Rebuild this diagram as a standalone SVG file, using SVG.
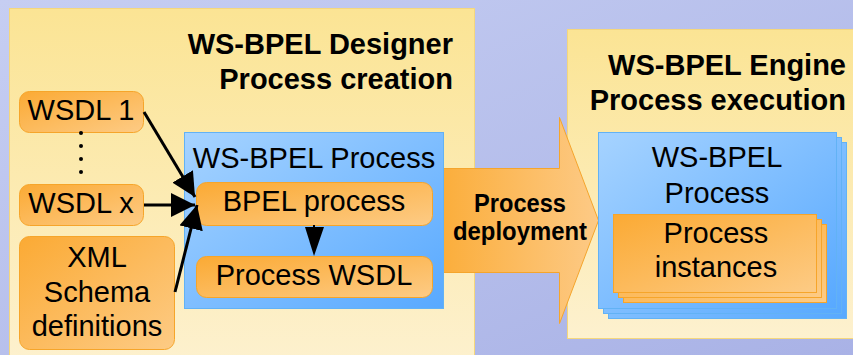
<svg xmlns="http://www.w3.org/2000/svg" width="853" height="355" viewBox="0 0 853 355">
  <defs>
    <linearGradient id="bg" x1="0" y1="0" x2="1" y2="1">
      <stop offset="0" stop-color="#c6ceF2"/>
      <stop offset="1" stop-color="#a9b2e6"/>
    </linearGradient>
    <linearGradient id="panel" x1="0" y1="0" x2="0" y2="1">
      <stop offset="0" stop-color="#fbe494"/>
      <stop offset="1" stop-color="#fdf1cf"/>
    </linearGradient>
    <linearGradient id="orange" x1="0" y1="0" x2="1" y2="1">
      <stop offset="0" stop-color="#fbaa34"/>
      <stop offset="1" stop-color="#fdcb85"/>
    </linearGradient>
    <linearGradient id="blue" x1="0" y1="0" x2="1" y2="1">
      <stop offset="0" stop-color="#a6d3ff"/>
      <stop offset="1" stop-color="#58a9ff"/>
    </linearGradient>
    <linearGradient id="arrowFill" x1="0" y1="0" x2="1" y2="0">
      <stop offset="0" stop-color="#fbae3c"/>
      <stop offset="1" stop-color="#fdca86"/>
    </linearGradient>
    <marker id="head" viewBox="0 0 10 10" refX="10" refY="5" markerWidth="8" markerHeight="8" markerUnits="strokeWidth" orient="auto">
      <path d="M0,0 L10,5 L0,10 z" fill="#000"/>
    </marker>
    <style>
      .panel { fill: url(#panel); stroke: #f5d77c; stroke-width: 1; }
      .onode { fill: url(#orange); stroke: #f6a52a; stroke-width: 1; }
      .bnode { fill: url(#blue); stroke: #62b2f5; stroke-width: 1; }
      .t { font-family: "Liberation Sans", Arial, sans-serif; font-size: 29px; fill: #000; text-anchor: middle; }
      .title { font-family: "Liberation Sans", Arial, sans-serif; font-size: 29px; font-weight: bold; fill: #000; text-anchor: end; }
      .dep { font-family: "Liberation Sans", Arial, sans-serif; font-size: 26px; font-weight: bold; fill: #000; text-anchor: middle; }
      .conn { stroke: #000; stroke-width: 3; fill: none; marker-end: url(#head); }
    </style>
  </defs>

  <rect x="0" y="0" width="853" height="355" fill="url(#bg)"/>

  <!-- Designer panel -->
  <g id="designer">
    <rect class="panel" x="9.5" y="8.5" width="465" height="360"/>
    <text class="title" x="453" y="54">WS-BPEL Designer</text>
    <text class="title" x="453" y="89">Process creation</text>
  </g>

  <!-- Engine panel -->
  <g id="engine">
    <rect class="panel" x="567.5" y="29.5" width="300" height="309"/>
    <text class="title" x="846" y="75">WS-BPEL Engine</text>
    <text class="title" x="846" y="110">Process execution</text>
  </g>

  <!-- Deployment arrow -->
  <g id="deployment">
    <path d="M443.5,168.5 L559.5,168.5 L559.5,117.5 L598.5,220.5 L559.5,323.5 L559.5,272.5 L443.5,272.5 z" fill="url(#arrowFill)" stroke="#f5a52c" stroke-width="1"/>
    <text class="dep" x="520" y="212" textLength="92" lengthAdjust="spacingAndGlyphs">Process</text>
    <text class="dep" x="520" y="240" textLength="134" lengthAdjust="spacingAndGlyphs">deployment</text>
  </g>

  <!-- Source documents -->
  <g id="wsdl1">
    <rect class="onode" x="19.5" y="91.5" width="124" height="41" rx="10"/>
    <text class="t" x="81" y="120">WSDL 1</text>
  </g>
  <g id="ellipsis">
    <circle cx="81" cy="133" r="2" fill="#000"/>
    <circle cx="81" cy="146" r="2" fill="#000"/>
    <circle cx="81" cy="159" r="2" fill="#000"/>
    <circle cx="81" cy="172" r="2" fill="#000"/>
  </g>
  <g id="wsdlx">
    <rect class="onode" x="19.5" y="184.5" width="124" height="41" rx="10"/>
    <text class="t" x="81" y="213">WSDL x</text>
  </g>
  <g id="schema">
    <rect class="onode" x="19.5" y="236.5" width="155" height="113" rx="10"/>
    <text class="t" x="97" y="267">XML</text>
    <text class="t" x="97" y="302">Schema</text>
    <text class="t" x="97" y="336">definitions</text>
  </g>

  <!-- Process being designed -->
  <g id="designProcess">
    <rect class="bnode" x="184.5" y="132.5" width="259" height="176"/>
    <text class="t" x="314" y="168">WS-BPEL Process</text>
  </g>
  <g id="bpelProcess">
    <rect class="onode" x="196.5" y="182.5" width="236" height="43" rx="10"/>
    <text class="t" x="314" y="211">BPEL process</text>
  </g>
  <g id="processWsdl">
    <rect class="onode" x="196.5" y="256.5" width="236" height="41" rx="10"/>
    <text class="t" x="314" y="285">Process WSDL</text>
  </g>

  <!-- Deployed process with instances -->
  <g id="deployedProcess">
    <rect class="bnode" x="608.5" y="142.5" width="238" height="176"/>
    <rect class="bnode" x="603.5" y="137.5" width="238" height="176"/>
    <rect class="bnode" x="598.5" y="132.5" width="238" height="176"/>
    <text class="t" x="717" y="167">WS-BPEL</text>
    <text class="t" x="717" y="203">Process</text>
  </g>
  <g id="instances">
    <rect class="onode" x="623.5" y="224.5" width="203" height="78"/>
    <rect class="onode" x="618.5" y="219.5" width="203" height="78"/>
    <rect class="onode" x="613.5" y="214.5" width="203" height="78"/>
    <text class="t" x="716" y="243">Process</text>
    <text class="t" x="716" y="277">instances</text>
  </g>

  <!-- Connectors -->
  <g id="connectors">
    <line class="conn" x1="144" y1="112" x2="195" y2="197"/>
    <line class="conn" x1="144" y1="205" x2="195" y2="205"/>
    <line class="conn" x1="175" y1="292" x2="197" y2="205"/>
    <line x1="314" y1="225" x2="314" y2="228" stroke="#000" stroke-width="2"/>
    <path d="M305,227 L324,227 L314,256 z" fill="#000"/>
  </g>
</svg>
